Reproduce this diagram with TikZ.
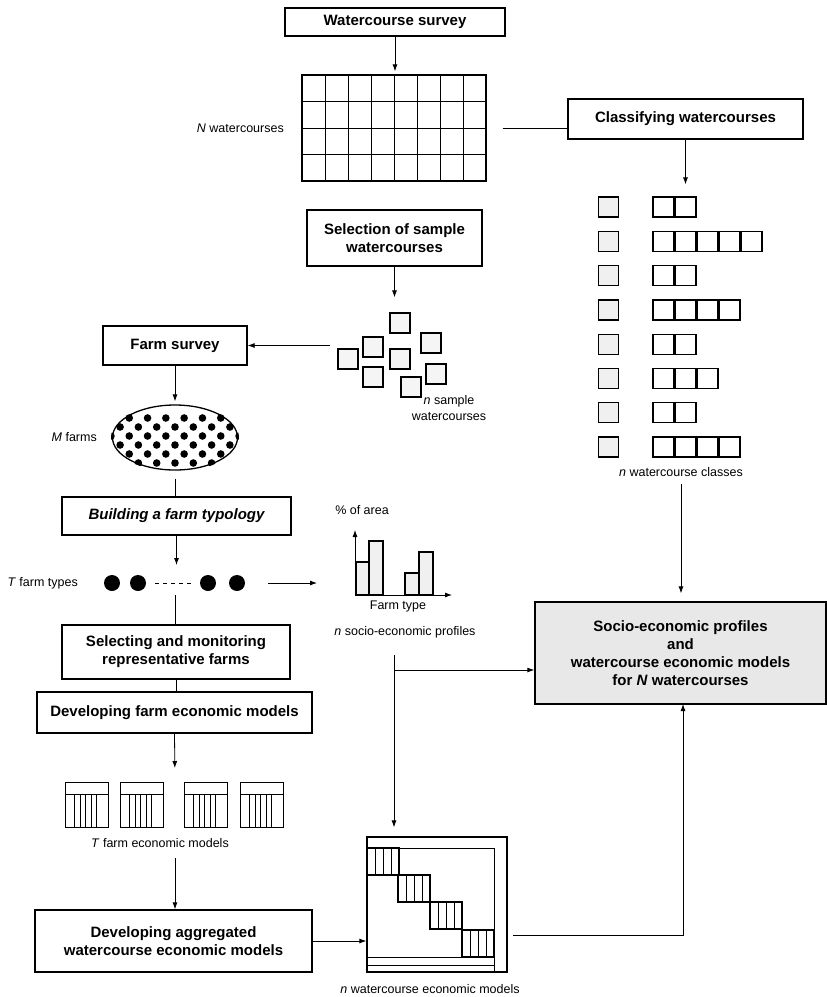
\documentclass[tikz,border=0pt]{standalone}
\usepackage{fontspec}
\setmainfont{Liberation Sans}
\usetikzlibrary{arrows.meta,shapes.geometric}
\newcommand\boxfont{\fontsize{15}{18}\selectfont\bfseries}
\newcommand\lblfont{\fontsize{12.5}{16}\selectfont}

\begin{document}
\begin{tikzpicture}[x=1pt, y=-1pt,
  box/.style={draw, line width=1.3pt, font=\boxfont, align=center, inner sep=0pt},
  lbl/.style={font=\lblfont, inner sep=0pt, align=center},
  arr/.style={-{Latex[length=7pt,width=5pt]}, line width=0.8pt},
  ln/.style={line width=0.8pt},
  cell/.style={draw, line width=1.3pt, fill=gray!12, minimum width=20pt, minimum height=20pt, inner sep=0pt},
  sq/.style={draw, line width=1.3pt, minimum width=21pt, minimum height=20pt, inner sep=0pt},
  bigdot/.style={circle, fill, minimum size=16pt, inner sep=0pt}]
  \useasboundingbox (0,0) rectangle (827,997);

  % Watercourse survey and the table of N watercourses
  \node[box, minimum width=220pt, minimum height=28pt] (survey) at (395,22) {Watercourse survey};
  \node[draw, line width=1.3pt, minimum width=184pt, minimum height=106pt, inner sep=0pt] (grid) at (394,128) {};
  \foreach \i in {1,...,7}
    \draw[line width=0.9pt] ({302+23*\i},75) -- ({302+23*\i},181);
  \foreach \j in {1,2,3}
    \draw[line width=0.9pt] (302,{75+26.5*\j}) -- (486,{75+26.5*\j});
  \node[lbl, anchor=east] (nlbl) at (284,128) {\textit{N} watercourses};
  \draw[arr, shorten >=3pt] (survey.south) -- (survey.south |- grid.north);

  % classes
  \node[box, minimum width=235pt, minimum height=40pt] (classify) at (685.5,119) {Classifying watercourses};
  \draw[ln, shorten <=16pt] (grid.east) -- (grid.east -| classify.west);
  \foreach \n [count=\i] in {2,5,2,4,2,3,2,4} {
    \node[cell] (cl\i) at (608.5,{207+34.3*(\i-1)}) {};
    \foreach \j in {1,...,\n}
      \node[sq] at ({641.5+22*\j},{207+34.3*(\i-1)}) {};
  }
  \draw[arr, shorten >=12pt] (classify.south) -- (classify.south |- cl1.north);
  \node[lbl] (classlbl) at (681,472) {\textit{n} watercourse classes};

  % sample watercourses
  \node[box, minimum width=175pt, minimum height=56pt] (select) at (394.5,238) {Selection of sample\\watercourses};
  \foreach \x/\y [count=\k] in {400/323, 373/347, 348/359, 400/359, 431/343, 373/377, 436/374, 411/387}
    \node[cell, fill=gray!8] (s\k) at (\x,\y) {};
  \draw[arr, shorten >=15pt] (select.south) -- (select.south |- s1.north);
  \node[lbl] (smplbl) at (449,408) {\textit{n} sample\\watercourses};

  \node[box, minimum width=144pt, minimum height=39pt] (farmsurvey) at (175,345.5) {Farm survey};
  \coordinate (smpin) at (330,345.5);
  \draw[arr] (smpin) -- (farmsurvey.east);

  % M farms
  \node[ellipse, draw, line width=1.3pt, minimum width=125pt, minimum height=65pt, inner sep=0pt] (farms) at (175,437.5) {};
  \begin{scope}
    \clip (farms.center) ellipse [x radius=64pt, y radius=34pt];
    \foreach \k in {-1,...,4}
      \foreach \i in {-4,...,4}
        \fill ({175+18.3*\i+9.15*mod(\k+4,2)},{427+9*\k}) circle (3.8pt);
  \end{scope}
  \node[lbl, anchor=east] (mlbl) at (97,437) {\textit{M} farms};
  \draw[arr, shorten >=3pt] (farmsurvey.south) -- (farms.north);

  \node[box, font=\boxfont\itshape, minimum width=229pt, minimum height=38pt] (typology) at (176.5,516) {Building a farm typology};
  \draw[ln, shorten <=8pt] (farms.south) -- (farms.south |- typology.north);

  % T farm types
  \foreach \x [count=\k] in {112,138,208,237}
    \node[bigdot] (ft\k) at (\x,583) {};
  \draw[line width=0.9pt, dash pattern=on 4pt off 4pt] ([xshift=9pt]ft2.east) -- ([xshift=-7pt]ft3.west);
  \node[lbl, anchor=east] (tlbl) at (78,583) {\textit{T} farm types};
  \coordinate (ftc) at (175,583);
  \draw[arr, shorten >=18pt] (typology.south) -- (typology.south |- ftc);

  % profile chart
  \coordinate (o) at (355,595);
  \foreach \a/\b/\t in {356/369/562, 369/383/541, 405/419/573, 419/433/552}
    \draw[line width=1.2pt, fill=gray!12] (\a,\t) rectangle (\b,595);
  \draw[arr] (o) -- (355,530);
  \draw[arr] (o) -- (452,595);
  \node[lbl] (arealbl) at (362,510) {\% of area};
  \node[lbl] (ftlbl) at (398,606) {Farm type};
  \node[lbl] (proflbl) at (405,632) {\textit{n} socio-economic profiles};
  \coordinate (chin) at (317,583);
  \draw[arr, shorten <=23pt] (ft4.east) -- (chin);

  \node[box, fill=gray!18, minimum width=291pt, minimum height=102pt] (socio) at (680.5,653)
    {Socio-economic profiles\\and\\watercourse economic models\\for \textit{N} watercourses};
  \draw[arr, shorten <=7pt, shorten >=8pt] (classlbl.south) -- (classlbl.south |- socio.north);

  % farm models
  \node[box, minimum width=228pt, minimum height=54pt] (selmon) at (176,652) {Selecting and monitoring\\representative farms};
  \draw[ln, shorten <=12pt] (ftc) -- (ftc |- selmon.north);
  \node[box, minimum width=275pt, minimum height=41pt] (devfarm) at (174.5,712.5) {Developing farm economic models};
  \draw[ln] (selmon.south) -- (selmon.south |- devfarm.north);
  \coordinate (fmtop) at (175,782);
  \draw[arr, shorten >=14pt] (devfarm.south) -- (fmtop);
  \foreach \x [count=\k] in {65,120,184,240} {
    \node[draw, line width=1.3pt, minimum width=43pt, minimum height=45pt, inner sep=0pt, anchor=north west] (fm\k) at (\x,782) {};
    \draw[line width=1pt] (\x,794) -- ({\x+43},794);
    \foreach \v in {9,15,20,26,31}
      \draw[line width=0.7pt] ({\x+\v},794) -- ({\x+\v},827);
  }
  \node[lbl] (fmlbl) at (160,843) {\textit{T} farm economic models};

  \node[box, minimum width=277pt, minimum height=62pt] (devagg) at (173.5,941) {Developing aggregated\\watercourse economic models};
  \coordinate (fmout) at (175,858);
  \draw[arr] (fmout) -- (fmout |- devagg.north);

  % n watercourse models
  \node[draw, line width=1.3pt, minimum width=140pt, minimum height=135pt, inner sep=0pt] (wmat) at (437,904.5) {};
  \draw[line width=1pt] (367,848) -- (494,848) -- (494,972);
  \draw[line width=1pt] (367,957) -- (494,957) (367,965) -- (494,965);
  \foreach \a/\b in {367/848, 398/875, 430/902, 462/930} {
    \draw[line width=1.2pt] (\a,\b) rectangle ({\a+32},{\b+27});
    \foreach \v in {8,16,24}
      \draw[line width=0.7pt] ({\a+\v},\b) -- ({\a+\v},{\b+27});
  }
  \node[lbl] (matlbl) at (430,989) {\textit{n} watercourse economic models};
  \draw[arr] (devagg.east) -- (devagg.east -| wmat.west);

  \coordinate (pt) at (394,655);
  \coordinate (tj) at (394,670);
  \draw[arr, shorten >=9pt] (pt) -- (pt |- wmat.north);
  \draw[arr] (tj) -- (tj -| socio.west);

  \coordinate (mout) at (513,935);
  \coordinate (sbin) at (683,704);
  \draw[arr] (mout) -| (sbin);
\end{tikzpicture}
\end{document}
